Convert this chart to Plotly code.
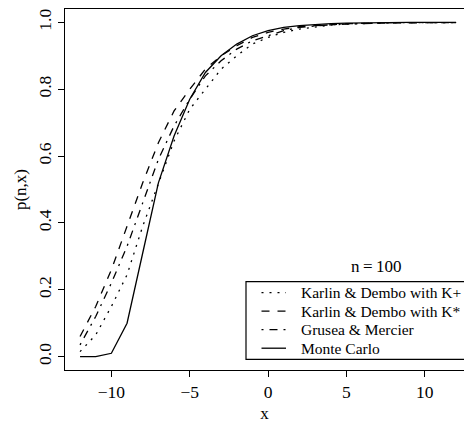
import plotly.graph_objects as go

x_vals = list(range(-12, 13))

kd_kplus = [0.015, 0.065, 0.15, 0.245, 0.39, 0.52, 0.645, 0.74, 0.80, 0.86, 0.90, 0.935, 0.955,
            0.97, 0.98, 0.987, 0.992, 0.995, 0.997, 0.998, 0.999, 0.999, 0.999, 0.999, 0.999]
kd_kstar = [0.06, 0.15, 0.26, 0.39, 0.52, 0.64, 0.735, 0.80, 0.86, 0.90, 0.93, 0.955, 0.97,
            0.98, 0.987, 0.99, 0.994, 0.996, 0.997, 0.998, 0.999, 0.999, 0.999, 0.999, 0.999]
grusea = [0.035, 0.12, 0.22, 0.33, 0.46, 0.59, 0.69, 0.77, 0.84, 0.885, 0.92, 0.945, 0.96,
          0.975, 0.985, 0.99, 0.993, 0.995, 0.997, 0.998, 0.999, 0.999, 0.999, 0.999, 0.999]
monte_carlo = [0.0, 0.0, 0.01, 0.10, 0.31, 0.52, 0.66, 0.77, 0.85, 0.90, 0.935, 0.96, 0.975,
               0.985, 0.99, 0.994, 0.996, 0.998, 0.999, 0.999, 1.0, 1.0, 1.0, 1.0, 1.0]

series_names = ["Karlin & Dembo with K+", "Karlin & Dembo with K*", "Grusea & Mercier", "Monte Carlo"]
series_vals = [kd_kplus, kd_kstar, grusea, monte_carlo]
dashes = ["2px,6px", "8px,8px", "2px,6px,8px,6px", "solid"]

x_ticks = [-10, -5, 0, 5, 10]
y_ticks = [0.0, 0.2, 0.4, 0.6, 0.8, 1.0]

FONT = "Liberation Serif, Times New Roman, Times, serif"
W, H = 464, 423
L, R, T, B = 65, 0, 9, 53
pw, ph = W - L - R, H - T - B

def px2paper_x(p):
    return (p - L) / pw

def px2paper_y(p):
    return (H - B - p) / ph

fig = go.Figure()
for name, vals, d in zip(series_names, series_vals, dashes):
    fig.add_trace(go.Scatter(x=x_vals, y=vals, mode="lines", name=name,
                             line=dict(color="black", width=1.3, dash=d),
                             showlegend=False))

# legend drawn by hand (box partly cut by the page edge like the original)
fig.add_shape(type="rect", xref="paper", yref="paper",
              x0=px2paper_x(246), x1=px2paper_x(480), y0=px2paper_y(359.3), y1=px2paper_y(281.7),
              line=dict(color="black", width=1.2), fillcolor="white", layer="above")
rows = [292.7, 311.2, 329.7, 348.2]
for name, d, ry in zip(series_names, dashes, rows):
    fig.add_shape(type="line", xref="paper", yref="paper",
                  x0=px2paper_x(261.5), x1=px2paper_x(286), y0=px2paper_y(ry), y1=px2paper_y(ry),
                  line=dict(color="black", width=1.3, dash=d), layer="above")
    fig.add_annotation(xref="paper", yref="paper", x=px2paper_x(299), y=px2paper_y(ry),
                       text=name, showarrow=False, xanchor="left", yanchor="middle",
                       font=dict(family=FONT, size=15.5, color="black"))

fig.add_annotation(x=6.9, y=0.27, xref="x", yref="y", text="n\u2009=\u2009100", showarrow=False,
                   font=dict(family=FONT, size=17, color="black"))

fig.update_layout(
    width=W, height=H,
    margin=dict(l=L, r=R, t=T, b=B, autoexpand=False),
    paper_bgcolor="white", plot_bgcolor="white",
    font=dict(family=FONT, size=17, color="black"),
    showlegend=False,
)
fig.update_xaxes(range=[-12.96, -12.96 + pw / 15.67], tickvals=x_ticks,
                 ticks="outside", ticklen=6, tickwidth=1, tickcolor="black",
                 tickfont=dict(family=FONT, size=17.5),
                 showline=True, linecolor="black", linewidth=1.2, mirror=True,
                 showgrid=False, zeroline=False,
                 title=dict(text="x", standoff=13, font=dict(family=FONT, size=17)))
fig.update_yaxes(range=[-0.04, 1.04], tickvals=y_ticks, tickformat=".1f", tickangle=-90,
                 ticks="outside", ticklen=6, tickwidth=1, tickcolor="black",
                 tickfont=dict(family=FONT, size=17.5),
                 showline=True, linecolor="black", linewidth=1.2, mirror=False,
                 showgrid=False, zeroline=False,
                 title=dict(text="p(n,x)", standoff=3, font=dict(family=FONT, size=17)))

fig.write_html("out.html", config={"displayModeBar": False},
               post_script="document.body.style.margin='0';document.body.style.overflow='hidden';")
